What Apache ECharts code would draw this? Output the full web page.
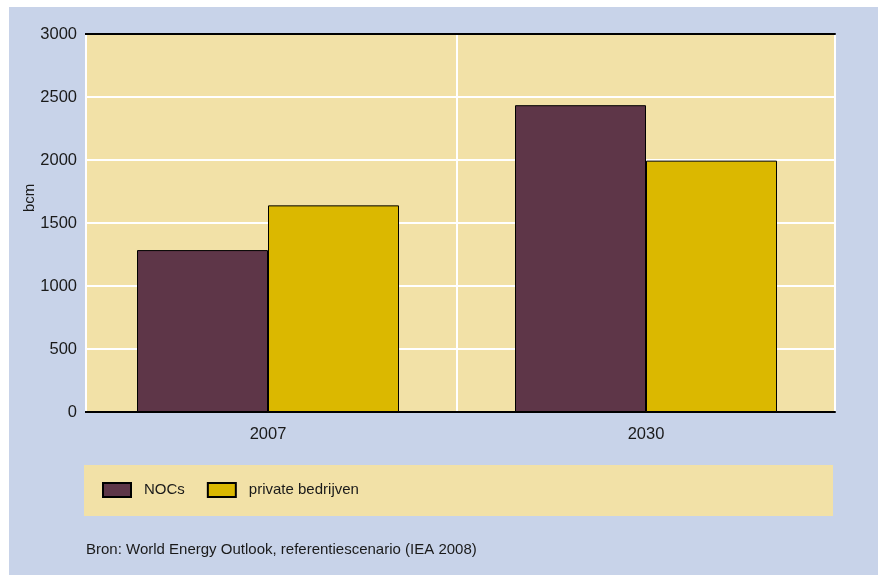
<!DOCTYPE html>
<html><head><meta charset="utf-8">
<script src="https://cdn.jsdelivr.net/npm/echarts@6/dist/echarts.min.js"></script>
<style>html,body{margin:0;padding:0;background:#fff;}#c{width:878px;height:575px;}</style>
</head><body><div id="c"></div>
<script>
var categories = ['2007', '2030'];
var nocs = [1285, 2435];
var privateCos = [1640, 1995];
var seriesNames = ['NOCs', 'private bedrijven'];
var yTicks = { min: 0, max: 3000, interval: 500 };
var axisName = 'bcm';
var sourceText = 'Bron: World Energy Outlook, referentiescenario (IEA 2008)';

var sans = '"Liberation Sans", Arial, sans-serif';
var chart = echarts.init(document.getElementById('c'));
chart.setOption({
  backgroundColor: '#ffffff',
  animation: false,
  graphic: [
    { type: 'rect', z: -20, shape: { x: 9, y: 7, width: 869, height: 568 }, style: { fill: '#c8d3e9' } },
    { type: 'rect', z: -10, shape: { x: 84, y: 465, width: 749, height: 51 }, style: { fill: '#f2e1a7' } },
    { type: 'rect', z: 10, shape: { x: 78, y: 30, width: 7, height: 386 }, style: { fill: '#c8d3e9' } },
    { type: 'line', z: 10, shape: { x1: 86, y1: 35, x2: 86, y2: 411 }, style: { stroke: '#ffffff', lineWidth: 2 } },
    { type: 'text', z: 5, left: 86, top: 542, style: { text: sourceText, fill: '#1a1a1a', font: '15px ' + sans } },
    { type: 'text', z: 5, x: 22, y: 212, rotation: Math.PI / 2, style: { text: axisName, fill: '#1a1a1a', font: '15px ' + sans, textAlign: 'left', textVerticalAlign: 'top' } }
  ],
  grid: { left: 79, right: 43, top: 34, bottom: 163, show: true, backgroundColor: '#f2e1a7', borderWidth: 0 },
  legend: {
    left: 102, top: 482, padding: 0, itemWidth: 28, itemHeight: 14, itemGap: 22,
    icon: 'rect',
    textStyle: { fontFamily: sans, fontSize: 15, color: '#1a1a1a', padding: [0, 0, 0, 8] },
    data: seriesNames
  },
  xAxis: [{
    type: 'category', data: categories, position: 'bottom',
    axisLine: { lineStyle: { color: '#000', width: 2 } },
    axisTick: { alignWithLabel: true, length: 8, lineStyle: { color: '#000', width: 1.5 } },
    axisLabel: { color: '#1a1a1a', fontSize: 16.5, fontFamily: sans, margin: 14 },
    splitLine: { show: true, lineStyle: { color: '#ffffff', width: 2 } }
  }, {
    type: 'category', data: categories, position: 'top',
    axisLine: { show: true, lineStyle: { color: '#000', width: 2 } },
    axisTick: { show: false }, axisLabel: { show: false }, splitLine: { show: false }
  }],
  yAxis: {
    type: 'value', min: yTicks.min, max: yTicks.max, interval: yTicks.interval,
    axisLine: { show: false }, axisTick: { show: false },
    axisLabel: { color: '#1a1a1a', fontSize: 16.5, fontFamily: sans, margin: 2, formatter: function (v) { return String(v); } },
    splitLine: { show: true, lineStyle: { color: '#ffffff', width: 2 } }
  },
  series: [
    { name: seriesNames[0], type: 'bar', data: nocs, barWidth: 131, barGap: '0%',
      itemStyle: { color: '#5e3648', borderColor: '#000', borderWidth: 1 } },
    { name: seriesNames[1], type: 'bar', data: privateCos, barWidth: 131, barGap: '0%',
      itemStyle: { color: '#dbb800', borderColor: '#000', borderWidth: 1 } }
  ]
});
</script></body></html>
